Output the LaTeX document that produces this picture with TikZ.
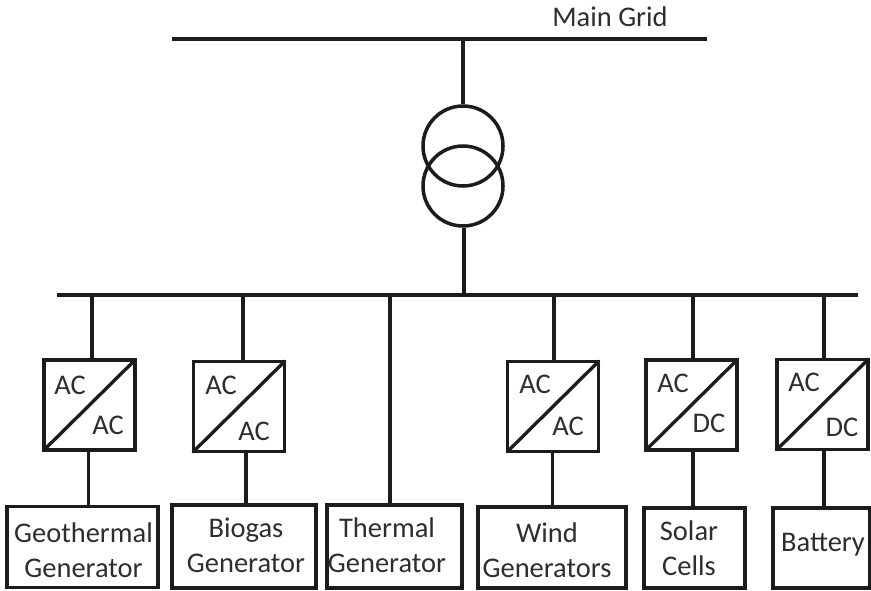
\documentclass[tikz,border=0pt]{standalone}
\usepackage{fontspec}
\setmainfont{Carlito}
\usepackage{xcolor}
\usetikzlibrary{positioning}
\definecolor{nInk}{HTML}{1C1C1C}
\definecolor{nText}{HTML}{2E2E2E}
\begin{document}
\begin{tikzpicture}[
          wire/.style={draw=nInk, line width=2.2pt},
          slash/.style={draw=nInk, line width=1.9pt, shorten >=1pt, shorten <=1pt},
          coil/.style={draw=nInk, line width=2pt, circle, minimum size=1.6cm, inner sep=0pt},
          conv/.style={draw=nInk, line width=2.2pt, minimum width=1.82cm, minimum height=1.8cm, inner sep=0pt},
          unit/.style={draw=nInk, line width=2.2pt, minimum height=1.62cm, inner sep=0pt},
          txt/.style={text=nText, font=\fontsize{16.2}{19.9}\selectfont, inner sep=0pt, align=center}]
        \useasboundingbox (0,0) rectangle (17.42,11.8);
        % busbars
        \coordinate (gridL) at (3.44,11.02);
        \coordinate (gridR) at (14.14,11.02);
        \coordinate (gridT) at (9.26,11.02);
        \coordinate (busL) at (1.14,5.9);
        \coordinate (busR) at (17.16,5.9);
        \coordinate (busT) at (9.28,5.9);
        \node[txt] (grid) at (12.2,11.46) {Main Grid};
        \draw[wire] (gridL) -- (gridR);
        \draw[wire] (busL) -- (busR);
        % transformer
        \node[coil] (coilA) at (9.26,8.88) {};
        \node[coil] (coilB) at (9.26,8.08) {};
        \draw[wire] (gridT) -- (coilA.north);
        \draw[wire] (busT |- coilB.south) -- (busT);
        % converters
        \node[conv] (c1) at (1.79,3.7) {};
        \node[conv] (c2) at (4.78,3.67) {};
        \node[conv] (c3) at (11.06,3.67) {};
        \node[conv] (c4) at (13.83,3.7) {};
        \node[conv] (c5) at (16.45,3.71) {};
        \draw[slash] (c1.south west) -- (c1.north east);
        \draw[slash] (c2.south west) -- (c2.north east);
        \draw[slash] (c3.south west) -- (c3.north east);
        \draw[slash] (c4.south west) -- (c4.north east);
        \draw[slash] (c5.south west) -- (c5.north east);
        \node[txt] (c1a) at (1.4,4.1) {AC};
        \node[txt] (c1b) at (2.16,3.3) {AC};
        \node[txt] (c2a) at (4.42,4.1) {AC};
        \node[txt] (c2b) at (5.08,3.18) {AC};
        \node[txt] (c3a) at (10.7,4.12) {AC};
        \node[txt] (c3b) at (11.36,3.28) {AC};
        \node[txt] (c4a) at (13.46,4.14) {AC};
        \node[txt] (c4b) at (14.18,3.34) {DC};
        \node[txt] (c5a) at (16.08,4.16) {AC};
        \node[txt] (c5b) at (16.84,3.26) {DC};
        % sources
        \node[unit, minimum width=3.02cm] (g1) at (1.65,0.86) {};
        \node[unit, minimum width=2.88cm, minimum height=1.66cm] (g2) at (4.88,0.87) {};
        \node[unit, minimum width=2.7cm, minimum height=1.66cm] (g3) at (7.89,0.87) {};
        \node[unit, minimum width=2.96cm] (g4) at (11.04,0.85) {};
        \node[unit, minimum width=2.02cm, minimum height=1.6cm] (g5) at (13.89,0.84) {};
        \node[unit, minimum width=1.94cm, minimum height=1.6cm] (g6) at (16.43,0.84) {};
        \node[txt] (g1t) at (1.67,0.8) {Geothermal\\Generator};
        \node[txt] (g2t) at (4.92,0.89) {Biogas\\Generator};
        \node[txt] (g3t) at (7.74,0.89) {Thermal\\Generator};
        \node[txt] (g4t) at (10.94,0.8) {Wind\\Generators};
        \node[txt] (g5t) at (13.78,0.83) {Solar\\Cells};
        \node[txt] (g6t) at (16.46,0.9) {Battery};
        % feeders
        \coordinate (t1) at (1.84,5.9);
        \coordinate (t2) at (4.86,5.9);
        \coordinate (t3) at (7.8,5.9);
        \coordinate (t4) at (11.08,5.9);
        \coordinate (t5) at (13.86,5.9);
        \coordinate (t6) at (16.48,5.9);
        \coordinate (d1) at (1.77,0);
        \coordinate (d2) at (4.92,0);
        \coordinate (d4) at (11.05,0);
        \coordinate (d5) at (13.86,0);
        \coordinate (d6) at (16.48,0);
        \draw[wire] (t1) -- (t1 |- c1.north);
        \draw[wire] (t2) -- (t2 |- c2.north);
        \draw[wire] (t3) -- (t3 |- g3.north);
        \draw[wire] (t4) -- (t4 |- c3.north);
        \draw[wire] (t5) -- (t5 |- c4.north);
        \draw[wire] (t6) -- (t6 |- c5.north);
        \draw[wire] (d1 |- c1.south) -- (d1 |- g1.north);
        \draw[wire] (d2 |- c2.south) -- (d2 |- g2.north);
        \draw[wire] (d4 |- c3.south) -- (d4 |- g4.north);
        \draw[wire] (d5 |- c4.south) -- (d5 |- g5.north);
        \draw[wire] (d6 |- c5.south) -- (d6 |- g6.north);
      \end{tikzpicture}
\end{document}
